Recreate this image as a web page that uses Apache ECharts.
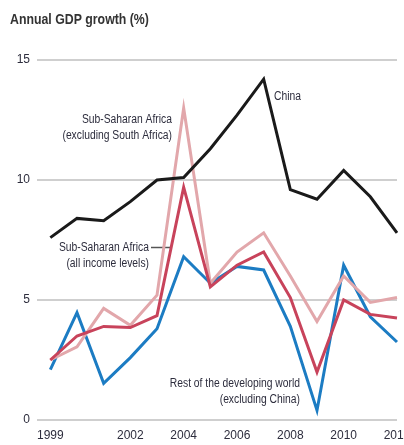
<!DOCTYPE html>
<html><head><meta charset="utf-8">
<script src="https://cdn.jsdelivr.net/npm/echarts@6/dist/echarts.min.js"></script>
<style>html,body{margin:0;padding:0;background:#fff}#c{width:404px;height:445px}</style>
</head><body><div id="c"></div>
<script>
const years = [1999,2000,2001,2002,2003,2004,2005,2006,2007,2008,2009,2010,2011,2012];
const xTickLabels = [1999,2002,2004,2006,2008,2010,2012];
const yTicks = [0,5,10,15];
const china = [7.6,8.4,8.3,9.1,10.0,10.1,11.3,12.7,14.2,9.6,9.2,10.4,9.3,7.8];
const ssaExclSA = [2.5,3.05,4.65,3.95,5.2,13.0,5.7,7.0,7.8,6.0,4.1,6.0,4.9,5.1];
const ssaAll = [2.5,3.5,3.9,3.85,4.35,9.7,5.55,6.45,7.0,5.1,2.0,5.0,4.4,4.25];
const restDev = [2.1,4.47,1.53,2.6,3.8,6.8,5.7,6.4,6.25,3.9,0.4,6.45,4.3,3.25];

const FONT = '"Liberation Sans",Arial,sans-serif';
const TXT = '#2d2d3d';
const pair = arr => years.map((y,i)=>[y,arr[i]]);
const mk = (name, data, color, z) => ({
  name, type:'line', data: pair(data), symbol:'none', z,
  lineStyle:{color, width:3, join:'miter'}, animation:false
});
const chart = echarts.init(document.getElementById('c'), null, {renderer:'canvas'});
const note = (x, y, t, align, sx) => ({
  type:'text', x, y, scaleX: sx || 0.86,
  style:{text:t, font:'12px '+FONT, fill:TXT, textAlign:align, textVerticalAlign:'top', lineHeight:16}
});
chart.setOption({
  animation:false,
  grid:{left:37, right:7, top:60, bottom:25, outerBoundsMode:'none', containLabel:false},
  xAxis:{type:'value', min:1998.5, max:2012,
    axisLine:{show:false}, axisTick:{show:false}, splitLine:{show:false},
    axisLabel:{customValues:xTickLabels, formatter: v => String(v), color:TXT, fontFamily:FONT, fontSize:12, margin:10, showMaxLabel:true, hideOverlap:false}
  },
  yAxis:{type:'value', min:0, max:15, interval:5,
    axisLine:{show:false}, axisTick:{show:false},
    splitLine:{lineStyle:{color:'#cfcfcf', width:2}},
    axisLabel:{color:TXT, fontFamily:FONT, fontSize:12, margin:7}
  },
  series:[
    mk('Rest of the developing world (excluding China)', restDev, '#1c7cc3', 2),
    mk('Sub-Saharan Africa (excluding South Africa)', ssaExclSA, '#e2a7ab', 3),
    mk('Sub-Saharan Africa (all income levels)', ssaAll, '#c8435b', 4),
    mk('China', china, '#1a1a1a', 5)
  ],
  graphic:[
    {type:'text', x:10, y:13, scaleX:0.88, style:{text:'Annual GDP growth (%)', font:'bold 14px '+FONT, fill:'#333', textVerticalAlign:'top'}},
    note(274, 89, 'China', 'left'),
    note(172, 112, 'Sub-Saharan Africa\n(excluding South Africa)', 'right'),
    note(149, 240, 'Sub-Saharan Africa\n(all income levels)', 'right'),
    {type:'line', shape:{x1:151, y1:247.5, x2:170, y2:247.5}, style:{stroke:'#555', lineWidth:1.5}},
    note(300, 376, 'Rest of the developing world\n(excluding China)', 'right')
  ]
});
</script></body></html>
